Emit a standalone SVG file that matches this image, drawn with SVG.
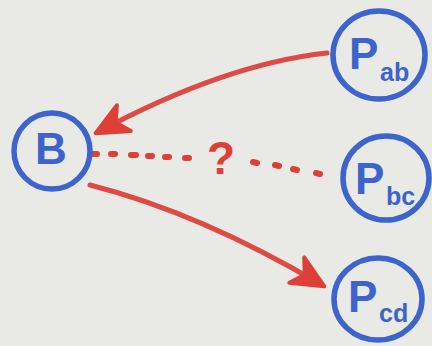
<svg xmlns="http://www.w3.org/2000/svg" width="432" height="346" viewBox="0 0 432 346">
  <style>
    .ring { fill: none; stroke: #3d63cc; stroke-width: 5.5; }
    .lbl { fill: #3d63cc; font-family: "Liberation Sans", Arial, sans-serif; font-weight: bold; }
    .main { font-size: 44px; }
    .sub { font-size: 25px; }
    .edge { fill: none; stroke: #de4a44; stroke-width: 5; stroke-linecap: round; }
    .dot { fill: none; stroke: #de4038; stroke-width: 6; stroke-linecap: round; }
    .q { fill: #de4038; font-family: "Liberation Sans", Arial, sans-serif; font-weight: bold; font-size: 46px; }
  </style>
  <defs>
    <marker id="head" markerUnits="userSpaceOnUse" markerWidth="40" markerHeight="40" viewBox="-26 -14 30 28" refX="0" refY="0" orient="auto">
      <path d="M2,0 L-22,-11 L-15,0 L-22,11 Z" fill="#de4038" stroke="#de4038" stroke-width="3" stroke-linejoin="round"/>
    </marker>
  </defs>

  <!-- paper -->
  <rect x="0" y="0" width="432" height="346" fill="#e9e9e6"/>

  <!-- connectors -->
  <g id="connectors">
    <path class="edge" d="M327,53 Q225,64 98,132" marker-end="url(#head)"/>
    <path class="edge" d="M90,185 Q200,213 322,285" marker-end="url(#head)"/>
    <g id="unknown-link">
      <path class="dot" d="M93,154 h4 M111,154 h4 M131,155 h5 M148,156 h4 M165,157 h4 M185,158 h4"/>
      <path class="dot" d="M253,162 l4,1 M275,165 l4,1 M293,169 l4,1 M316,173 l4,1"/>
      <text class="q" x="207" y="174">?</text>
    </g>
  </g>

  <!-- nodes -->
  <g id="node-B">
    <ellipse class="ring" cx="52" cy="151" rx="38" ry="38"/>
    <text class="lbl main" x="35" y="164">B</text>
  </g>
  <g id="node-Pab">
    <ellipse class="ring" cx="379" cy="55" rx="46" ry="44"/>
    <text class="lbl main" x="349" y="69">P</text>
    <text class="lbl sub" x="380" y="81">ab</text>
  </g>
  <g id="node-Pbc">
    <ellipse class="ring" cx="386" cy="178" rx="43" ry="42"/>
    <text class="lbl main" x="355" y="194">P</text>
    <text class="lbl sub" x="386" y="205">bc</text>
  </g>
  <g id="node-Pcd">
    <ellipse class="ring" cx="378" cy="299" rx="44" ry="41"/>
    <text class="lbl main" x="348" y="312">P</text>
    <text class="lbl sub" x="379" y="322">cd</text>
  </g>
</svg>
